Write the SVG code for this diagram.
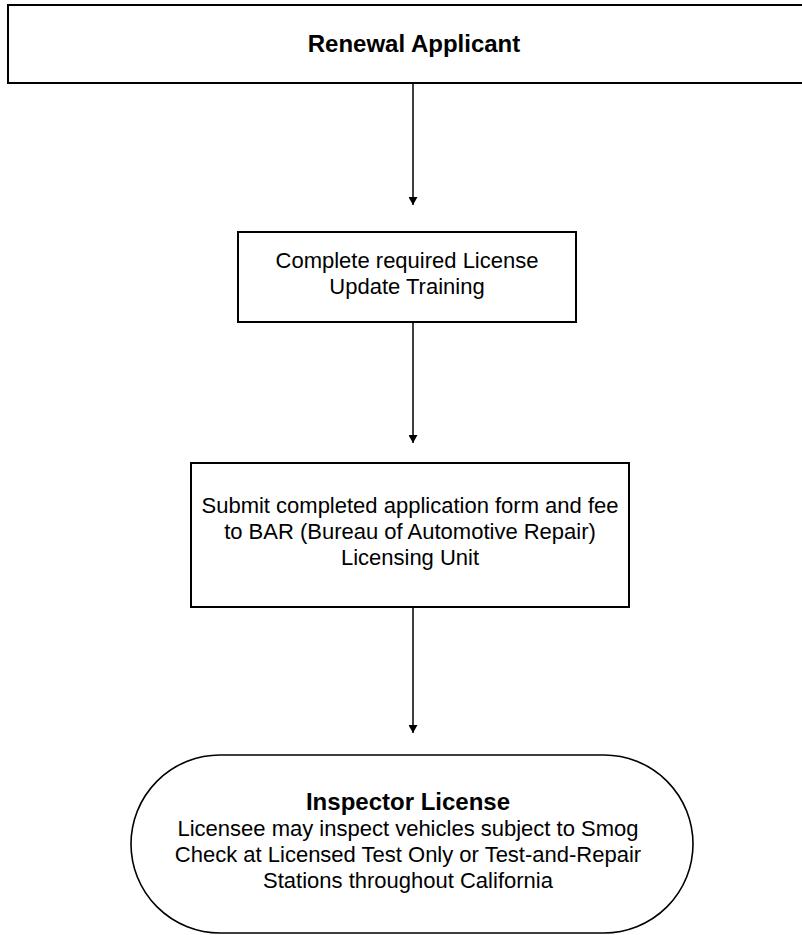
<svg xmlns="http://www.w3.org/2000/svg" width="802" height="935" viewBox="0 0 802 935">
<defs>
<style>
.box{fill:#fff;stroke:#000;stroke-width:2}
.term{fill:#fff;stroke:#000;stroke-width:1.6}
.t{font-family:"Liberation Sans",Arial,sans-serif;font-size:22px;fill:#000;text-anchor:middle}
.b{font-weight:bold;font-size:24px}
.conn{stroke:#000;stroke-width:1.5;fill:none}
</style>
<marker id="ah" viewBox="0 0 8 9" refX="8" refY="4.5" markerWidth="8" markerHeight="9" markerUnits="userSpaceOnUse" orient="auto">
<path d="M0,0 L8,4.5 L0,9 Z" fill="#000"/>
</marker>
</defs>
<rect width="802" height="935" fill="#fff"/>
<g id="connectors">
<line class="conn" x1="413" y1="84" x2="413" y2="205" marker-end="url(#ah)"/>
<line class="conn" x1="413" y1="323" x2="413" y2="443" marker-end="url(#ah)"/>
<line class="conn" x1="413" y1="608" x2="413" y2="733" marker-end="url(#ah)"/>
</g>
<g id="renewal-applicant">
<rect class="box" x="8" y="5" width="810" height="78"/>
<text class="t b" x="414" y="52">Renewal Applicant</text>
</g>
<g id="training">
<rect class="box" x="238" y="232" width="338" height="90"/>
<text class="t" x="407" y="268">Complete required License</text>
<text class="t" x="407" y="294">Update Training</text>
</g>
<g id="submit">
<rect class="box" x="191" y="463" width="438" height="144"/>
<text class="t" x="410" y="513">Submit completed application form and fee</text>
<text class="t" x="410" y="539">to BAR (Bureau of Automotive Repair)</text>
<text class="t" x="410" y="565">Licensing Unit</text>
</g>
<g id="inspector-license">
<rect class="term" x="131" y="755" width="562" height="178" rx="89" ry="89"/>
<text class="t b" x="408" y="810">Inspector License</text>
<text class="t" x="408" y="836">Licensee may inspect vehicles subject to Smog</text>
<text class="t" x="408" y="862">Check at Licensed Test Only or Test-and-Repair</text>
<text class="t" x="408" y="888">Stations throughout California</text>
</g>
</svg>
